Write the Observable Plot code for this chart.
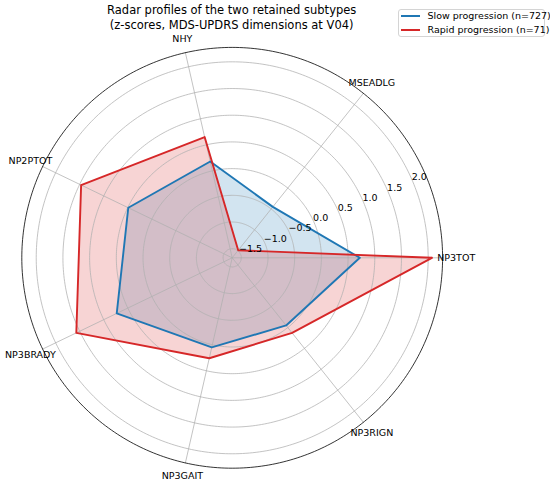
<!DOCTYPE html>
<html>
<head>
<meta charset="utf-8">
<script src="https://cdn.jsdelivr.net/npm/d3@7"></script>
<script src="https://cdn.jsdelivr.net/npm/@observablehq/plot@0.6"></script>
<style>
  html, body { margin: 0; padding: 0; background: #fff; }
  #wrap { position: relative; width: 550px; height: 484px; font-family: "DejaVu Sans", sans-serif; }
  #chart { position: absolute; left: 0; top: 0; }
  #title { position: absolute; left: 0; top: 3px; width: 463.4px; text-align: center; font-size: 11.5px; line-height: 14.8px; color: #000; }
  #legend { position: absolute; left: 397.5px; top: 9px; width: 145px; height: 26px; border: 1px solid #d4d4d4; border-radius: 3px; background: rgba(255,255,255,0.8); font-size: 9.5px; color: #000; }
  .row { position: absolute; left: 0; height: 12px; width: 100%; }
  .sw { position: absolute; left: 2.5px; top: 5px; width: 19.3px; height: 1.9px; }
  .lab { position: absolute; left: 29px; top: 0; line-height: 12px; white-space: nowrap; }
</style>
</head>
<body>
<div id="wrap">
  <div id="chart"></div>
  <div id="title">Radar profiles of the two retained subtypes<br>(z-scores, MDS-UPDRS dimensions at V04)</div>
  <div id="legend"></div>
</div>
<script>
// ---- data ----
const dims = ["NP3TOT", "MSEADLG", "NHY", "NP2PTOT", "NP3BRADY", "NP3GAIT", "NP3RIGN"];
const slow = [0.72, -0.45, 0.18, 0.49, 0.73, 0.05, -0.05];
const rapid = [2.07, -1.49, 0.65, 1.47, 1.57, 0.26, 0.13];
const seriesNames = ["Slow progression (n=727)", "Rapid progression (n=71)"];
const seriesColors = ["#1f77b4", "#d62728"];
const rTicks = [-1.5, -1.0, -0.5, 0.0, 0.5, 1.0, 1.5, 2.0];
const rLimits = [-1.67, 2.27];

// ---- geometry ----
const cx = 231.7, cy = 257.3, pxPerUnit = 53.4;
const span = rLimits[1] - rLimits[0];
const R = span * pxPerUnit;
const n = dims.length;
const angleOf = i => 2 * Math.PI * i / n;
const px = (v, a) => (v - rLimits[0]) * Math.cos(a);
const py = (v, a) => (v - rLimits[0]) * Math.sin(a);

const series = [slow, rapid];
const polys = series.map((vals, s) => {
  const pts = vals.map((v, i) => ({s, v, a: angleOf(i)}));
  pts.push(pts[0]);
  return pts;
});

const circleAngles = d3.range(0, 361, 1).map(d => d * Math.PI / 180);
const gridPts = rTicks.flatMap(t => circleAngles.map(a => ({t, a})));
const outerPts = circleAngles.map(a => ({a}));
const spokes = dims.flatMap((d, i) => [{i, v: rLimits[0], a: angleOf(i)}, {i, v: rLimits[1], a: angleOf(i)}]);
const labelPad = 0.255;
const rLabelAngle = 22.5 * Math.PI / 180;
const fmt = t => t.toFixed(1).replace("-", "\u2212");

const gridColor = "#b0b0b0";
const marks = [];
polys.forEach((p, s) => {
  marks.push(Plot.line(p, {x: d => px(d.v, d.a), y: d => py(d.v, d.a), fill: seriesColors[s], fillOpacity: 0.2, stroke: "none"}));
});
marks.push(Plot.line(gridPts, {x: d => px(d.t, d.a), y: d => py(d.t, d.a), z: "t", stroke: gridColor, strokeWidth: 0.76}));
marks.push(Plot.line(spokes, {x: d => px(d.v, d.a), y: d => py(d.v, d.a), z: "i", stroke: gridColor, strokeWidth: 0.76}));
polys.forEach((p, s) => {
  marks.push(Plot.line(p, {x: d => px(d.v, d.a), y: d => py(d.v, d.a), stroke: seriesColors[s], strokeWidth: 1.9, strokeLinejoin: "round"}));
});
marks.push(Plot.line(outerPts, {x: d => px(rLimits[1], d.a), y: d => py(rLimits[1], d.a), stroke: "#000", strokeWidth: 0.8}));
marks.push(Plot.text(rTicks, {x: t => px(t, rLabelAngle), y: t => py(t, rLabelAngle), text: fmt, textAnchor: "start", lineAnchor: "bottom", dx: -1.5, dy: -2.5, fontSize: 9.5, fill: "#000"}));
marks.push(Plot.text(dims, {x: (d, i) => px(rLimits[1] + labelPad, angleOf(i)), y: (d, i) => py(rLimits[1] + labelPad, angleOf(i)), text: d => d, textAnchor: "middle", lineAnchor: "middle", fontSize: 9.5, fill: "#000"}));

const chart = Plot.plot({
  width: 550,
  height: 484,
  margin: 0,
  style: {fontFamily: "DejaVu Sans, sans-serif", background: "transparent", overflow: "visible"},
  x: {type: "linear", domain: [-span, span], range: [cx - R, cx + R], axis: null},
  y: {type: "linear", domain: [-span, span], range: [cy + R, cy - R], axis: null},
  marks
});
document.getElementById("chart").appendChild(chart);

// legend
const lg = document.getElementById("legend");
seriesNames.forEach((name, i) => {
  const row = document.createElement("div");
  row.className = "row";
  row.style.top = (0.3 + i * 13.4) + "px";
  const sw = document.createElement("div");
  sw.className = "sw";
  sw.style.background = seriesColors[i];
  const lab = document.createElement("div");
  lab.className = "lab";
  lab.textContent = name;
  row.appendChild(sw);
  row.appendChild(lab);
  lg.appendChild(row);
});
</script>
</body>
</html>
